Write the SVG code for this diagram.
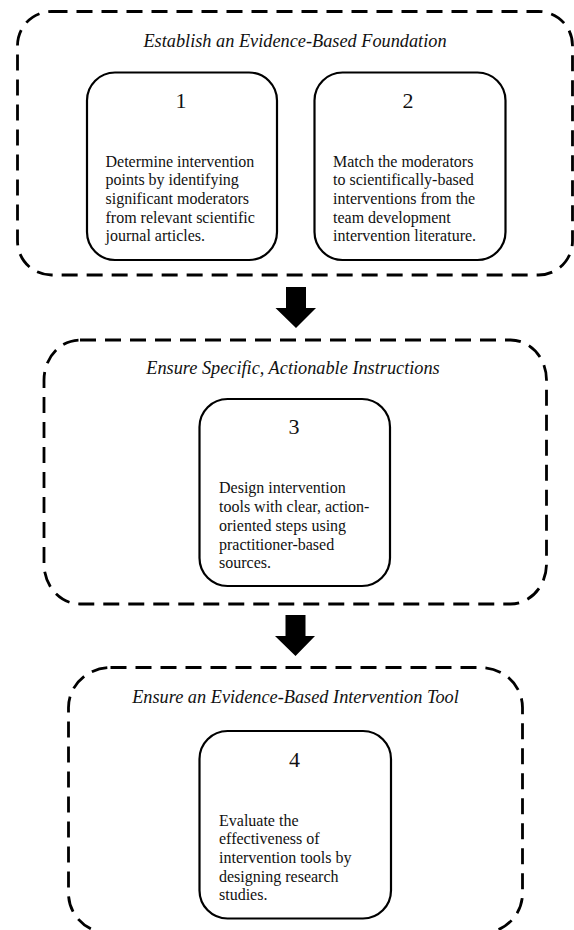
<svg xmlns="http://www.w3.org/2000/svg" width="574" height="930" viewBox="0 0 574 930">
<style>
.outer{fill:none;stroke:#000;stroke-width:2.8;stroke-dasharray:16 9}
.box{fill:#fff;stroke:#000;stroke-width:2.2}
.title{font-family:"Liberation Serif",serif;font-style:italic;font-size:18.3px;text-anchor:middle;fill:#111}
.num{font-family:"Liberation Serif",serif;font-size:22px;text-anchor:middle;fill:#111}
.body{font-family:"Liberation Serif",serif;font-size:16px;fill:#111}
.arrow{fill:#000}
</style>
<rect width="574" height="930" fill="#fff"/>
<g id="group1">
<rect class="outer" x="17.5" y="11.5" width="555" height="263.5" rx="34" ry="34"/>
<text class="title" x="295" y="47">Establish an Evidence-Based Foundation</text>
</g>
<g id="node1">
<rect class="box" x="87" y="72.5" width="190" height="187.5" rx="28" ry="28"/>
<text class="num" x="181" y="107.5">1</text>
<text class="body" x="105.5" y="166.7">Determine intervention</text>
<text class="body" x="105.5" y="185.3">points by identifying</text>
<text class="body" x="105.5" y="203.7">significant moderators</text>
<text class="body" x="105.5" y="222.7">from relevant scientific</text>
<text class="body" x="105.5" y="241">journal articles.</text>
</g>
<g id="node2">
<rect class="box" x="314.5" y="72.5" width="191" height="187.5" rx="28" ry="28"/>
<text class="num" x="408" y="107.5">2</text>
<text class="body" x="333" y="166.7">Match the moderators</text>
<text class="body" x="333" y="185.3">to scientifically-based</text>
<text class="body" x="333" y="203.7">interventions from the</text>
<text class="body" x="333" y="222.7">team development</text>
<text class="body" x="333" y="241">intervention literature.</text>
</g>
<g id="group2">
<rect class="outer" x="44" y="340" width="502.5" height="264" rx="36" ry="40"/>
<text class="title" x="293" y="374">Ensure Specific, Actionable Instructions</text>
</g>
<g id="node3">
<rect class="box" x="199.5" y="399" width="190.5" height="187" rx="28" ry="28"/>
<text class="num" x="294" y="434.3">3</text>
<text class="body" x="219" y="493.3">Design intervention</text>
<text class="body" x="219" y="511.8">tools with clear, action-</text>
<text class="body" x="219" y="530.7">oriented steps using</text>
<text class="body" x="219" y="549.8">practitioner-based</text>
<text class="body" x="219" y="568.3">sources.</text>
</g>
<g id="group3">
<rect class="outer" x="68.5" y="667.5" width="454" height="266" rx="42" ry="40"/>
<text class="title" x="295.5" y="703.3">Ensure an Evidence-Based Intervention Tool</text>
</g>
<g id="node4">
<rect class="box" x="199.5" y="731" width="191.5" height="187.5" rx="28" ry="28"/>
<text class="num" x="294.5" y="766.7">4</text>
<text class="body" x="219" y="826">Evaluate the</text>
<text class="body" x="219" y="843.6">effectiveness of</text>
<text class="body" x="219" y="862.5">intervention tools by</text>
<text class="body" x="219" y="881.5">designing research</text>
<text class="body" x="219" y="900">studies.</text>
</g>
<g id="connectors">
<path class="arrow" d="M286,287 H306 V308 H316 L296,328 L275.5,308 H286 Z"/>
<path class="arrow" d="M285.5,615 H305.5 V636 H315 L295.5,656 L275,636 H285.5 Z"/>
</g>
</svg>
